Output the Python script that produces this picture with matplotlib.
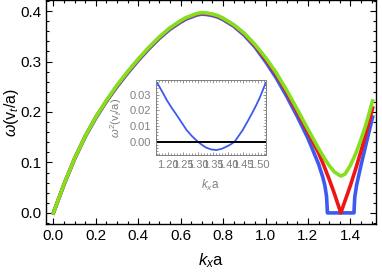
import matplotlib
matplotlib.use('Agg')
import matplotlib.pyplot as plt
from matplotlib.ticker import MultipleLocator

plt.rcParams['font.family'] = ['Liberation Sans', 'DejaVu Sans']
plt.rcParams['mathtext.fontset'] = 'custom'
plt.rcParams['mathtext.rm'] = 'Liberation Sans'
plt.rcParams['mathtext.it'] = 'Liberation Sans:italic'

# main dispersion curves
k_green = [0, .05, .1, .15, .2, .25, .3, .35, .4, .45, .5, .55, .6, .625, .65, .675, .7, .725, .75, .775, .8,
           .85, .9, .95, 1.0, 1.05, 1.1, 1.15, 1.2, 1.25, 1.275, 1.3, 1.325, 1.355,
           1.375, 1.4, 1.425, 1.45, 1.475, 1.505]
w_green = [0, .057, .108, .152, .19, .223, .253, .28, .305, .328, .349, .367, .381, .387, .391, .395, .397, .396, .394, .391, .386,
           .373, .356, .334, .308, .278, .243, .205, .166, .128, .110, .094, .081, .073,
           .077, .094, .117, .145, .177, .222]

k_red = [0, .05, .1, .15, .2, .25, .3, .35, .4, .45, .5, .55, .6, .625, .65, .675, .7, .725, .75, .775, .8,
         .85, .9, .95, 1.0, 1.05, 1.1, 1.15, 1.2, 1.25, 1.275, 1.3, 1.325, 1.355,
         1.375, 1.4, 1.425, 1.45, 1.475, 1.505]
w_red = [0, .057, .108, .152, .19, .222, .252, .279, .304, .327, .348, .366, .380, .386, .390, .394, .396, .395, .393, .390, .385,
         .372, .355, .332, .305, .275, .239, .200, .160, .119, .094, .067, .038, .0,
         .024, .054, .087, .122, .160, .208]

k_blue = [0, .05, .1, .15, .2, .25, .3, .35, .4, .45, .5, .55, .6, .625, .65, .675, .7, .725, .75, .775, .8,
          .85, .9, .95, 1.0, 1.05, 1.1, 1.15, 1.2, 1.25, 1.27, 1.28, 1.288, 1.292,
          1.417, 1.421, 1.43, 1.45, 1.475, 1.505]
w_blue = [0, .056, .107, .151, .188, .221, .250, .277, .302, .325, .346, .364, .378, .384, .388, .392, .394, .393, .391, .388, .383,
          .370, .352, .329, .300, .268, .231, .191, .148, .097, .071, .054, .032, .0,
          .0, .032, .056, .094, .138, .190]

# inset: omega^2 of the blue branch
k_in = [1.164, 1.18, 1.195, 1.211, 1.228, 1.245, 1.261, 1.28, 1.299, 1.313, 1.327, 1.343, 1.360,
        1.377, 1.393, 1.407, 1.421, 1.434, 1.448, 1.462, 1.476, 1.49, 1.504, 1.514, 1.524]
w2_in = [.0374, .032, .0267, .0218, .0171, .0122, .0075, .0034, .0, -.0021, -.0038, -.0049, -.0053,
         -.0046, -.0032, -.0018, .0, .0036, .0075, .0122, .0171, .0222, .0278, .0325, .0374]

green = '#82e01e'
red = '#f01414'
blue = '#3c5af0'

fig = plt.figure(figsize=(3.82, 2.73), dpi=100)
ax = fig.add_axes([0.1204, 0.1795, 0.8639, 0.8187])
ax.plot(k_blue, w_blue, color=blue, lw=2.6, solid_joinstyle='round')
ax.plot(k_red, w_red, color=red, lw=2.6, solid_joinstyle='round')
ax.plot(k_green, w_green, color=green, lw=2.6, solid_joinstyle='round')
ax.set_xlim(-0.035, 1.521)
ax.set_ylim(-0.022, 0.421)
ax.xaxis.set_major_locator(MultipleLocator(0.2))
ax.xaxis.set_minor_locator(MultipleLocator(0.05))
ax.yaxis.set_major_locator(MultipleLocator(0.1))
ax.yaxis.set_minor_locator(MultipleLocator(0.02))
ax.xaxis.set_major_formatter(plt.FormatStrFormatter('%.1f'))
ax.yaxis.set_major_formatter(plt.FormatStrFormatter('%.1f'))
ax.tick_params(which='both', direction='in', top=True, right=True, labelsize=11, width=0.8)
ax.tick_params(which='major', length=4)
ax.tick_params(which='minor', length=2)
for s in ax.spines.values():
    s.set_linewidth(1.0)
ax.set_xlabel(r'$k_x$a', fontsize=12, labelpad=6)
ax.set_ylabel(r'$\omega$(v$_t$/a)', fontsize=11.5)
ax.yaxis.set_label_coords(-0.076, 0.5)

gray = '#808080'
ins = fig.add_axes([0.408, 0.432, 0.288, 0.275])
ins.plot(k_in, w2_in, color=blue, lw=1.3)
ins.axhline(0, color='k', lw=1.4)
ins.set_xlim(1.159, 1.525)
ins.set_ylim(-0.0085, 0.0394)
ins.xaxis.set_major_locator(MultipleLocator(0.05))
ins.xaxis.set_minor_locator(MultipleLocator(0.01))
ins.yaxis.set_major_locator(MultipleLocator(0.01))
ins.yaxis.set_minor_locator(MultipleLocator(0.002))
ins.xaxis.set_major_formatter(plt.FormatStrFormatter('%.2f'))
ins.yaxis.set_major_formatter(plt.FormatStrFormatter('%.2f'))
ins.tick_params(which='both', direction='in', top=True, right=True, labelsize=8,
                colors=gray, width=0.6)
ins.tick_params(which='major', length=2.5)
ins.tick_params(which='minor', length=1.2)
for s in ins.spines.values():
    s.set_color(gray)
    s.set_linewidth(0.7)
ins.set_xlabel(r'$k_x$a', fontsize=8.5, color=gray, labelpad=6)
ins.set_ylabel(r'$\omega^2$(v$_t$/a)', fontsize=8, color=gray)
ins.yaxis.set_label_coords(-0.29, 0.5)

fig.savefig('out.png', dpi=100)
